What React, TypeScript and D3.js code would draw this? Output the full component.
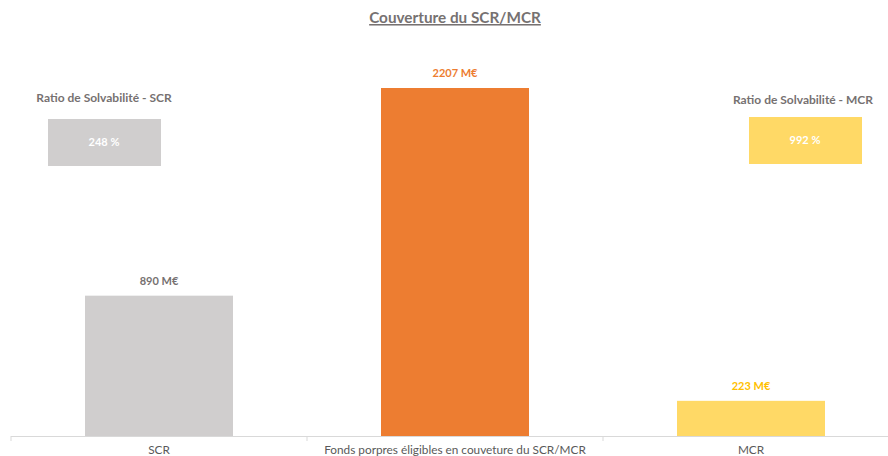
import React from "react";
import * as d3 from "d3";

const categories = ["SCR", "Fonds porpres éligibles en couveture du SCR/MCR", "MCR"];
const values = [890, 2207, 223];
const valueLabels = ["890 M€", "2207 M€", "223 M€"];
const ratioTitles = ["Ratio de Solvabilité - SCR", "Ratio de Solvabilité - MCR"];
const ratioValues = ["248 %", "992 %"];

const barColors = ["#d0cece", "#ed7d31", "#ffd966"];
const labelColors = ["#767171", "#ed7d31", "#ffc000"];
const FONT = "Lato, 'Open Sans', sans-serif";

export default function App() {
  const W = 888, H = 456;
  const x = d3.scaleBand<string>().domain(categories).range([11, 899]).paddingInner(0.5).paddingOuter(0.25);
  const y = d3.scaleLinear().domain([0, 2207]).range([436, 88]);
  const step = x.step();
  const ratioBoxes = [
    { cx: 104, top: 119, color: barColors[0], titleY: 102, titleX: 104 },
    { cx: 805, top: 117, color: barColors[2], titleY: 104, titleX: 803 },
  ];
  return (
    <svg width={W} height={H} style={{ position: "absolute", left: 0, top: 0 }}>
      <rect width={W} height={H} fill="#ffffff" />
      <text x={455} y={23} textAnchor="middle" fontFamily={FONT} fontWeight="bold" fontSize={15.3} fill="#767171" textDecoration="underline">
        Couverture du SCR/MCR
      </text>
      {categories.map((c, i) => (
        <g key={c}>
          <rect x={x(c)!} y={y(values[i])} width={x.bandwidth()} height={436 - y(values[i])} fill={barColors[i]} />
          <text x={x(c)! + x.bandwidth() / 2} y={y(values[i]) - 11} textAnchor="middle" fontFamily={FONT} fontWeight="bold" fontSize={11} fill={labelColors[i]}>
            {valueLabels[i]}
          </text>
          <text x={x(c)! + x.bandwidth() / 2} y={454} textAnchor="middle" fontFamily={FONT} fontSize={11.8} fill="#595959">
            {c}
          </text>
        </g>
      ))}
      <line x1={11} x2={W} y1={436.5} y2={436.5} stroke="#d9d9d9" />
      {[0, 1, 2, 3].map((k) => (
        <line key={k} x1={11 + k * step} x2={11 + k * step} y1={436} y2={441} stroke="#d9d9d9" />
      ))}
      {ratioBoxes.map((b, i) => (
        <g key={i}>
          <text x={b.titleX} y={b.titleY} textAnchor="middle" fontFamily={FONT} fontWeight="bold" fontSize={12} fill="#767171">
            {ratioTitles[i]}
          </text>
          <rect x={b.cx - 56} y={b.top} width={113} height={47} fill={b.color} />
          <text x={b.cx} y={b.top + 27} textAnchor="middle" fontFamily={FONT} fontWeight="bold" fontSize={11} fill="#ffffff">
            {ratioValues[i]}
          </text>
        </g>
      ))}
    </svg>
  );
}
